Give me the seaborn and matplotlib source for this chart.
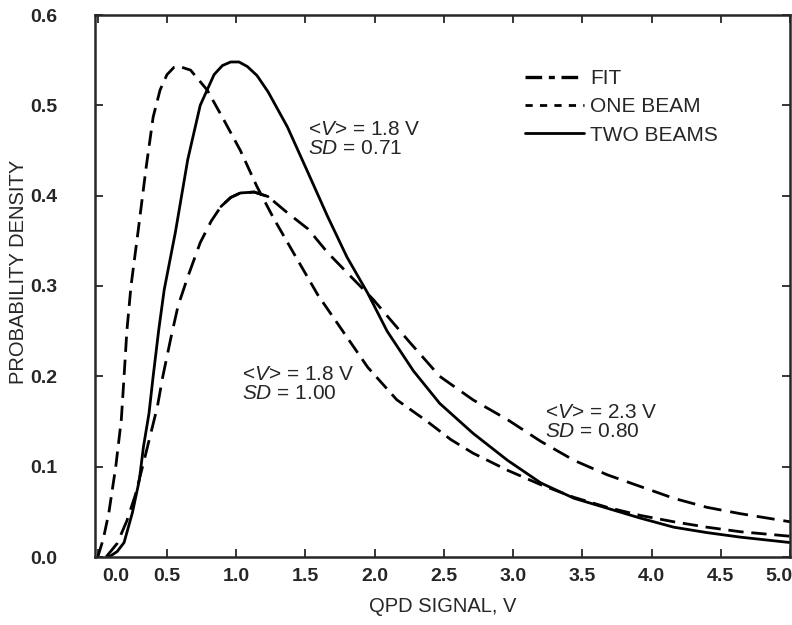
import matplotlib
matplotlib.use("Agg")
import matplotlib.pyplot as plt
import matplotlib.transforms as mtransforms
from matplotlib.lines import Line2D
import seaborn as sns
import pandas as pd

# ---- data ----
one_beam_x = [0.00, 0.04, 0.08, 0.13, 0.17, 0.19, 0.21, 0.24, 0.29, 0.35, 0.40, 0.45, 0.50, 0.55,
              0.59, 0.67, 0.79, 0.91, 1.03, 1.15, 1.27, 1.39, 1.59, 1.95, 2.16, 2.38, 2.55, 2.71,
              2.96, 3.20, 3.44, 3.68, 3.92, 4.16, 4.40, 4.64, 5.00]
one_beam_y = [0.000, 0.020, 0.049, 0.100, 0.152, 0.200, 0.250, 0.300, 0.359, 0.432, 0.487, 0.517,
              0.534, 0.542, 0.543, 0.539, 0.517, 0.484, 0.450, 0.410, 0.375, 0.343, 0.290, 0.210,
              0.174, 0.150, 0.130, 0.115, 0.096, 0.080, 0.066, 0.055, 0.046, 0.039, 0.033, 0.028,
              0.023]

two_beams_x = [0.08, 0.14, 0.19, 0.25, 0.30, 0.33, 0.37, 0.40, 0.44, 0.48, 0.56, 0.65, 0.74, 0.84,
               0.90, 0.96, 1.02, 1.08, 1.15, 1.23, 1.37, 1.52, 1.66, 1.80, 1.95, 2.09, 2.28, 2.47,
               2.71, 2.96, 3.20, 3.44, 3.68, 3.92, 4.16, 4.40, 4.64, 5.00]
two_beams_y = [0.000, 0.006, 0.016, 0.049, 0.085, 0.122, 0.159, 0.200, 0.251, 0.296, 0.359, 0.440,
               0.500, 0.534, 0.544, 0.548, 0.548, 0.543, 0.533, 0.515, 0.476, 0.425, 0.377, 0.332,
               0.292, 0.250, 0.206, 0.170, 0.137, 0.107, 0.082, 0.065, 0.054, 0.043, 0.033, 0.027,
               0.022, 0.016]

fit_x = [0.06, 0.14, 0.21, 0.27, 0.33, 0.38, 0.43, 0.47, 0.53, 0.58, 0.65, 0.74, 0.82, 0.89, 0.96,
         1.03, 1.13, 1.23, 1.37, 1.52, 1.66, 1.85, 1.99, 2.24, 2.47, 2.71, 2.96, 3.20, 3.44, 3.68,
         3.92, 4.16, 4.40, 4.64, 5.00]
fit_y = [0.000, 0.015, 0.040, 0.068, 0.104, 0.135, 0.166, 0.200, 0.244, 0.278, 0.310, 0.348, 0.372,
         0.388, 0.398, 0.403, 0.404, 0.399, 0.381, 0.363, 0.337, 0.307, 0.285, 0.240, 0.200, 0.174,
         0.152, 0.128, 0.107, 0.091, 0.078, 0.065, 0.055, 0.048, 0.039]

legend_labels = ["FIT", "ONE BEAM", "TWO BEAMS"]
x_ticks = [0.0, 0.5, 1.0, 1.5, 2.0, 2.5, 3.0, 3.5, 4.0, 4.5, 5.0]
y_ticks = [0.0, 0.1, 0.2, 0.3, 0.4, 0.5, 0.6]
annotations = [
    ("<$V$> = 1.8 V", "$SD$ = 0.71", 1.52, 0.484),
    ("<$V$> = 1.8 V", "$SD$ = 1.00", 1.04, 0.212),
    ("<$V$> = 2.3 V", "$SD$ = 0.80", 3.23, 0.171),
]

# ---- style ----
sns.set_style("ticks")
plt.rcParams["font.family"] = ["Liberation Sans", "DejaVu Sans"]
plt.rcParams["mathtext.fontset"] = "custom"
plt.rcParams["mathtext.rm"] = "Liberation Sans"
plt.rcParams["mathtext.it"] = "Liberation Sans:italic"
plt.rcParams["mathtext.bf"] = "Liberation Sans:bold"

fig = plt.figure(figsize=(7.92, 6.25), dpi=100)
ax = fig.add_axes([95 / 792, 1 - 557 / 625, 695 / 792, 542 / 625])

lw = 2.0
df_one = pd.DataFrame({"x": one_beam_x, "y": one_beam_y})
df_two = pd.DataFrame({"x": two_beams_x, "y": two_beams_y})
df_fit = pd.DataFrame({"x": fit_x, "y": fit_y})

sns.lineplot(data=df_fit, x="x", y="y", ax=ax, color="black", lw=lw, sort=False,
             estimator=None)
ax.lines[-1].set_dashes([6.5, 3.2])
sns.lineplot(data=df_one, x="x", y="y", ax=ax, color="black", lw=lw, sort=False,
             estimator=None)
ax.lines[-1].set_dashes([5.5, 2.8])
sns.lineplot(data=df_two, x="x", y="y", ax=ax, color="black", lw=lw, sort=False,
             estimator=None)
# small solid arc at the top of the fit curve, as in the reference
peak = df_fit[(df_fit["x"] >= 0.89) & (df_fit["x"] <= 1.23)]
sns.lineplot(data=peak, x="x", y="y", ax=ax, color="black", lw=lw, sort=False, estimator=None)

ax.set_xlim(-0.02, 5.0)
ax.set_ylim(0.0, 0.6)
ax.set_xticks(x_ticks)
ax.set_yticks(y_ticks)
ax.set_xticklabels([f"{v:.1f}" for v in x_ticks], fontsize=14, fontweight="bold")
ax.set_yticklabels([f"{v:.1f}" for v in y_ticks], fontsize=14, fontweight="bold")
ax.tick_params(direction="in", length=6, width=1.3, top=True, right=True)
ax.tick_params(axis="x", pad=8)
ax.tick_params(axis="y", pad=27)
for s in ax.spines.values():
    s.set_linewidth(1.8)
    s.set_visible(True)

# nudge the first and last x tick labels, as in the reference
xl = ax.get_xticklabels()
off_r = mtransforms.ScaledTranslation(13 / 72, 0, fig.dpi_scale_trans)
off_l = mtransforms.ScaledTranslation(-8 / 72, 0, fig.dpi_scale_trans)
xl[0].set_transform(xl[0].get_transform() + off_r)
xl[-1].set_transform(xl[-1].get_transform() + off_l)

ax.set_xlabel("QPD SIGNAL, V", fontsize=14.5)
ax.set_ylabel("PROBABILITY DENSITY", fontsize=14.5)
ax.xaxis.set_label_coords(0.5, -0.074)
ax.yaxis.set_label_coords(-0.096, 0.526)

for l1, l2, tx, ty in annotations:
    ax.text(tx, ty, l1 + "\n" + l2, fontsize=15, va="top", ha="left", linespacing=1.0)

handles = [
    Line2D([], [], color="black", lw=2.4, dashes=[5, 2, 1.8, 2]),
    Line2D([], [], color="black", lw=2.0, dashes=[2.6, 2.6]),
    Line2D([], [], color="black", lw=2.0),
]
ax.legend(handles, legend_labels, loc="upper left", bbox_to_anchor=(0.607, 0.916),
          frameon=False, fontsize=15, handlelength=2.8, handletextpad=0.3,
          labelspacing=0.45, borderaxespad=0)

fig.savefig("out.png", dpi=100)
